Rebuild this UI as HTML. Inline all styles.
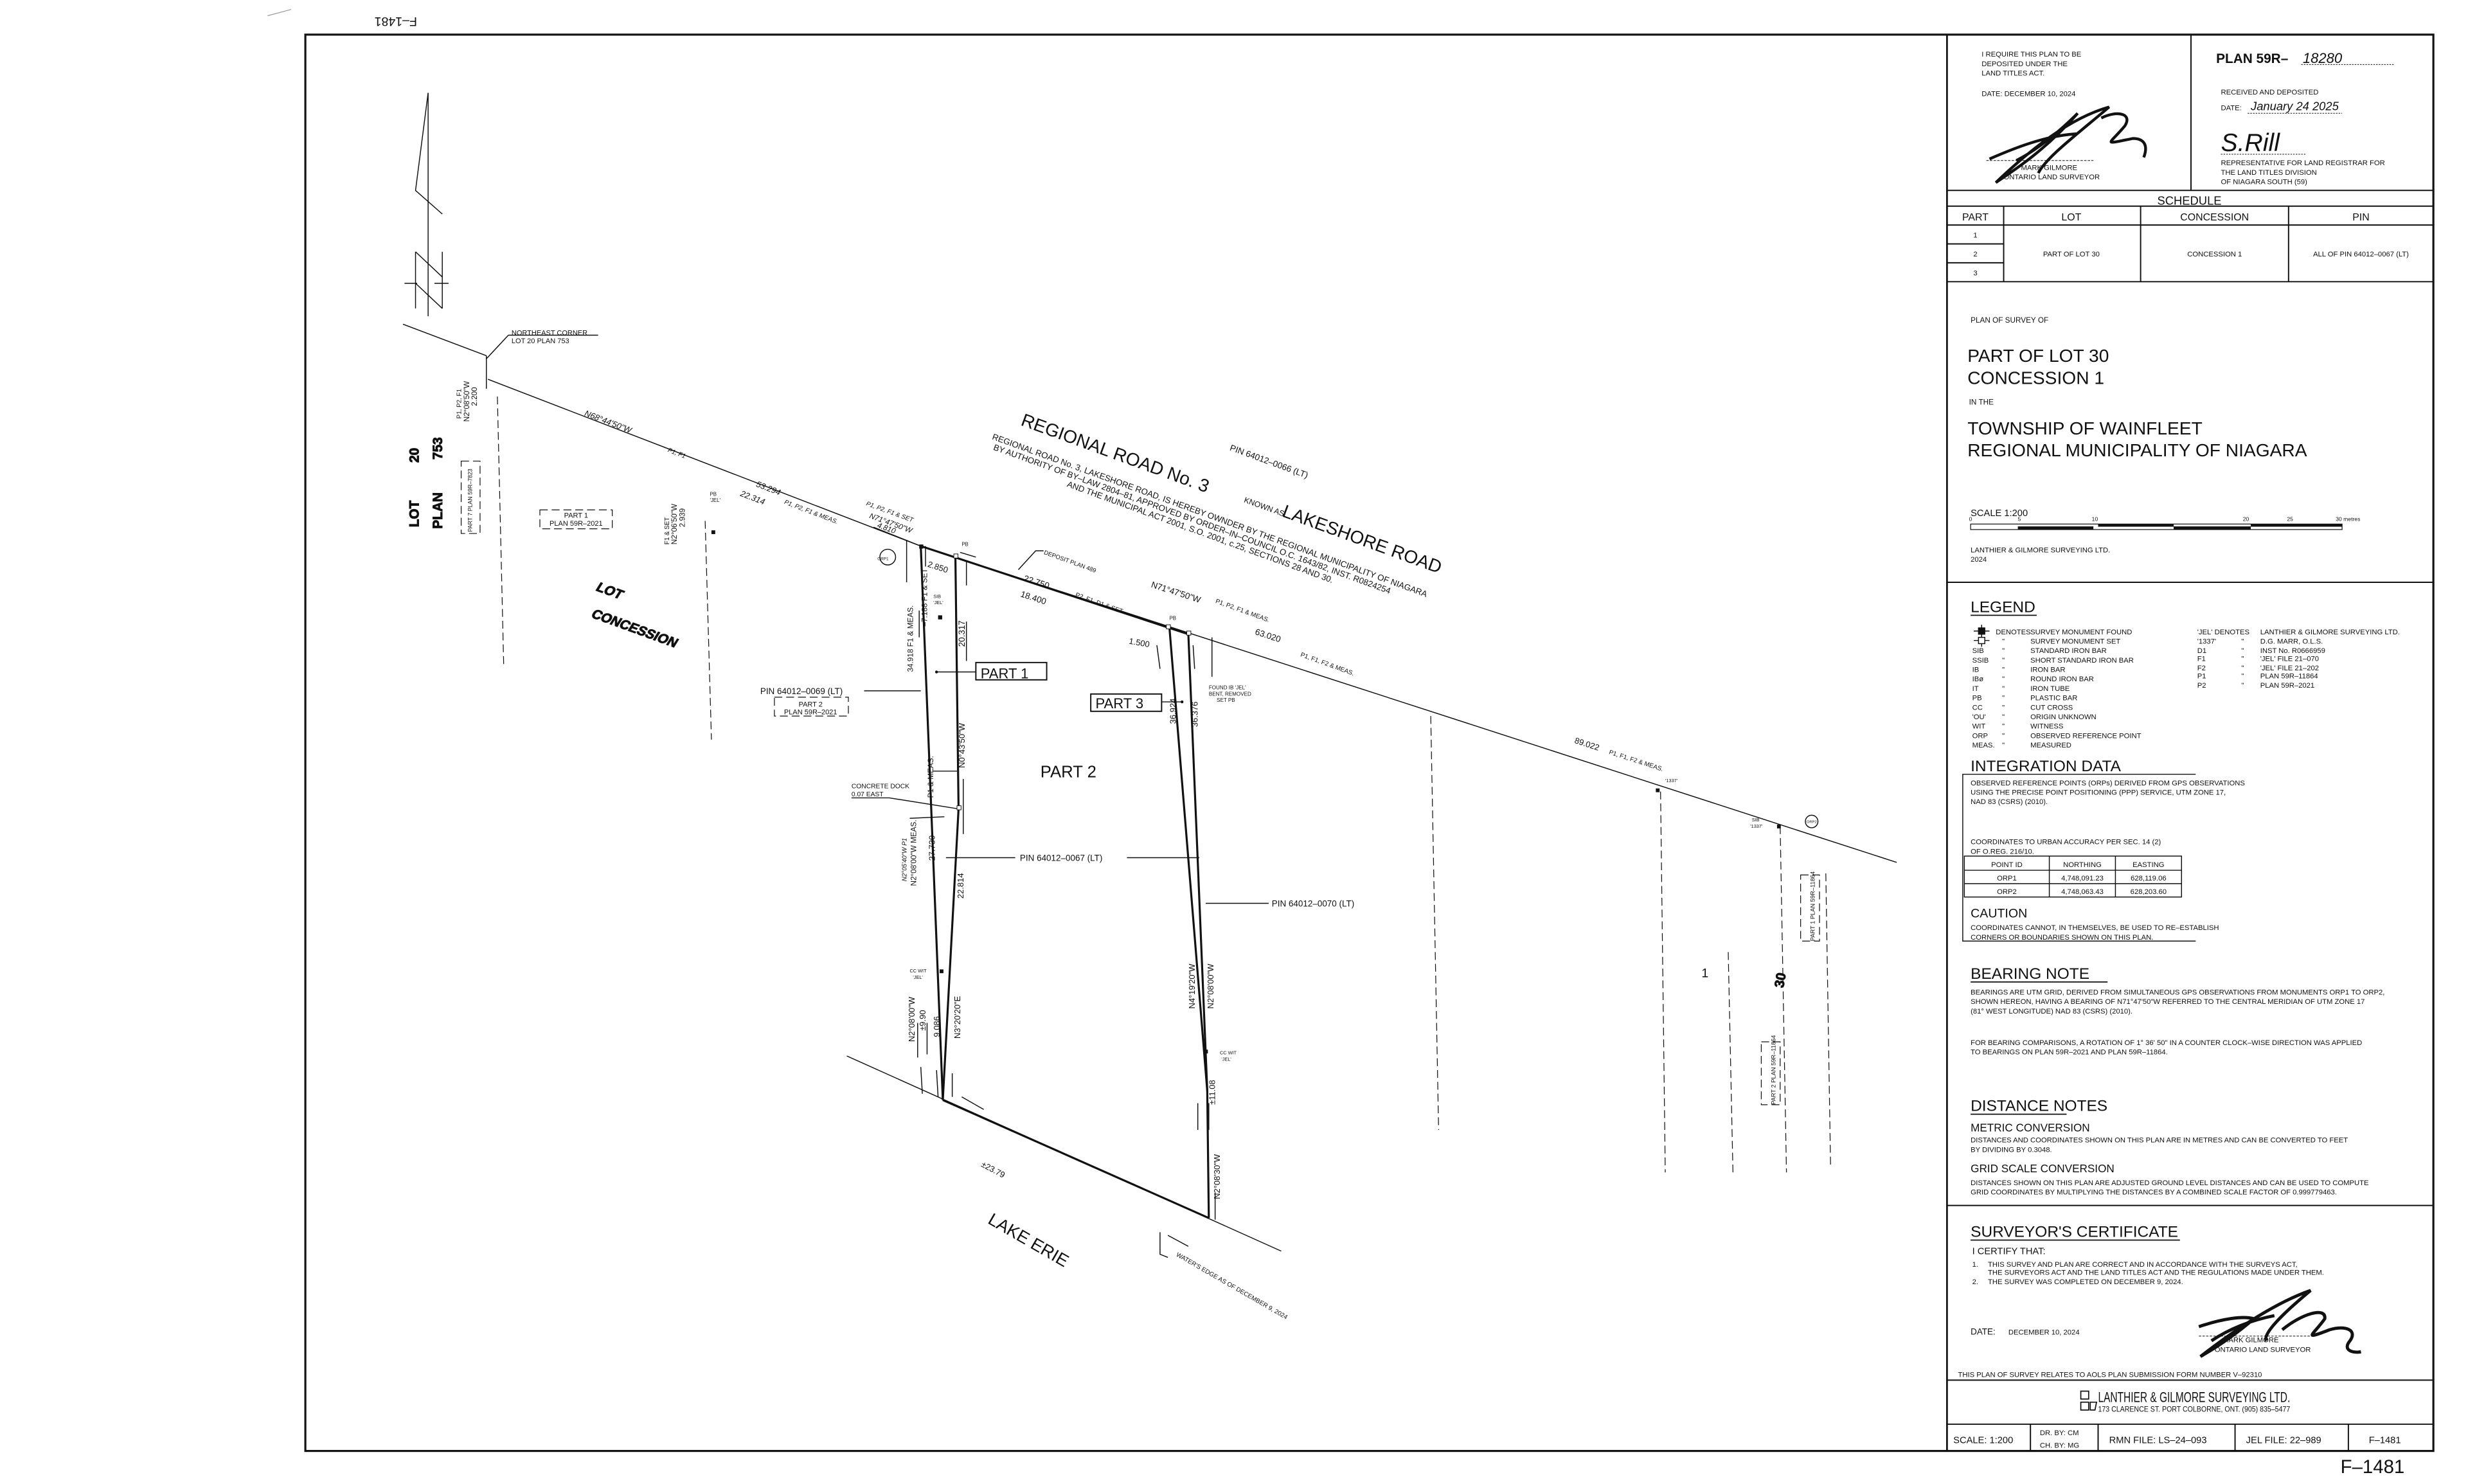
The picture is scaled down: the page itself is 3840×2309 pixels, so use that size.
<!DOCTYPE html>
<html><head><meta charset="utf-8"><style>
html,body{margin:0;padding:0;background:#fff;}
svg{display:block;}
text{font-family:"Liberation Sans",sans-serif;fill:#111;}
</style></head><body>
<svg width="3840" height="2309" viewBox="0 0 1568 943" preserveAspectRatio="none" xmlns="http://www.w3.org/2000/svg">
<rect width="1568" height="943" fill="#fff"/>
<text x="0" y="0" font-size="8" fill="#555" transform="translate(265,11) rotate(180)">F–1481</text>
<line x1="170" y1="10" x2="185" y2="6" stroke="#999" stroke-width="0.5"/>
<text x="1487" y="936" font-size="12" fill="#333">F–1481</text>

<rect x="194" y="22" width="1352" height="900" fill="none" stroke="#111" stroke-width="1.3"/>
<line x1="1237" y1="22" x2="1237" y2="922" stroke="#111" stroke-width="1.1"/>

<g stroke="#111" stroke-width="0.8" fill="none">
<line x1="1392" y1="22" x2="1392" y2="121"/>
<line x1="1237" y1="121" x2="1546" y2="121"/>
<line x1="1237" y1="131" x2="1546" y2="131"/>
<line x1="1237" y1="143" x2="1546" y2="143"/>
<line x1="1237" y1="155" x2="1273" y2="155"/>
<line x1="1237" y1="167" x2="1273" y2="167"/>
<line x1="1237" y1="179" x2="1546" y2="179"/>
<line x1="1273" y1="131" x2="1273" y2="179"/>
<line x1="1360" y1="131" x2="1360" y2="179"/>
<line x1="1454" y1="131" x2="1454" y2="179"/>
<line x1="1237" y1="370" x2="1546" y2="370"/>
<line x1="1237" y1="766" x2="1546" y2="766"/>
<line x1="1237" y1="877" x2="1546" y2="877"/>
<line x1="1237" y1="905" x2="1546" y2="905"/>
<line x1="1290" y1="905" x2="1290" y2="922"/>
<line x1="1333" y1="905" x2="1333" y2="922"/>
<line x1="1420" y1="905" x2="1420" y2="922"/>
<line x1="1492" y1="905" x2="1492" y2="922"/>
</g>
<g font-size="4.6">
<text x="1259" y="36">I REQUIRE THIS PLAN TO BE</text>
<text x="1259" y="42">DEPOSITED UNDER THE</text>
<text x="1259" y="48">LAND TITLES ACT.</text>
<text x="1259" y="61">DATE:  DECEMBER 10, 2024</text>
<text x="1284" y="108">MARK GILMORE</text>
<text x="1273" y="114">ONTARIO LAND SURVEYOR</text>
<text x="1411" y="60">RECEIVED AND DEPOSITED</text>
<text x="1411" y="70">DATE:</text>
<text x="1411" y="105">REPRESENTATIVE FOR LAND REGISTRAR FOR</text>
<text x="1411" y="111">THE LAND TITLES DIVISION</text>
<text x="1411" y="117">OF NIAGARA SOUTH (59)</text>
</g>
<line x1="1262" y1="102" x2="1330" y2="102" stroke="#111" stroke-width="0.4" stroke-dasharray="1.5,0.8"/>
<path d="M1281,102 C1295,95 1310,82 1320,72 C1300,95 1280,108 1268,116 C1290,95 1315,75 1340,68 C1320,85 1300,100 1295,110 M1264,101 C1280,94 1300,86 1320,85 M1335,75 C1345,70 1355,72 1350,80 C1340,92 1335,92 1355,88 C1362,88 1365,92 1362,100" fill="none" stroke="#111" stroke-width="1.8"/>
<text x="1408" y="40" font-size="8.5" font-weight="bold">PLAN 59R–</text>
<text x="1463" y="40" font-size="9" font-style="italic" font-family="Liberation Serif">18280</text>
<line x1="1462" y1="41" x2="1521" y2="41" stroke="#111" stroke-width="0.4" stroke-dasharray="1,0.7"/>
<text x="1430" y="70" font-size="7.5" font-style="italic" font-family="Liberation Serif">January 24 2025</text>
<line x1="1428" y1="72" x2="1488" y2="72" stroke="#111" stroke-width="0.4" stroke-dasharray="1,0.7"/>
<text x="1411" y="96" font-size="16" font-style="italic" font-family="Liberation Serif">S.Rill</text>
<line x1="1411" y1="98" x2="1465" y2="98" stroke="#111" stroke-width="0.4" stroke-dasharray="1,0.7"/>

<text x="1391" y="130" font-size="7.5" text-anchor="middle">SCHEDULE</text>
<g font-size="6.5" text-anchor="middle">
<text x="1255" y="140">PART</text><text x="1316" y="140">LOT</text><text x="1407" y="140">CONCESSION</text><text x="1500" y="140">PIN</text>
</g>
<g font-size="4.6" text-anchor="middle">
<text x="1255" y="151">1</text><text x="1255" y="163">2</text><text x="1255" y="175">3</text>
<text x="1316" y="163">PART OF LOT 30</text><text x="1407" y="163">CONCESSION 1</text><text x="1500" y="163">ALL OF PIN 64012–0067 (LT)</text>
</g>
<text x="1252" y="205" font-size="4.8">PLAN OF SURVEY OF</text>
<text x="1250" y="230" font-size="11.5">PART OF LOT 30</text>
<text x="1250" y="244" font-size="11.5">CONCESSION 1</text>
<text x="1251" y="257" font-size="4.8">IN THE</text>
<text x="1250" y="276" font-size="11.5">TOWNSHIP OF WAINFLEET</text>
<text x="1250" y="290" font-size="11.5">REGIONAL MUNICIPALITY OF NIAGARA</text>
<text x="1252" y="328" font-size="6">SCALE 1:200</text>
<g font-size="3.5"><text x="1251" y="331">0</text><text x="1282" y="331">5</text><text x="1329" y="331">10</text><text x="1425" y="331">20</text><text x="1453" y="331">25</text><text x="1484" y="331">30 metres</text></g>
<rect x="1252" y="333" width="236" height="3.5" fill="#fff" stroke="#111" stroke-width="0.5"/>
<rect x="1333" y="333" width="48" height="1.7" fill="#111"/><rect x="1430" y="333" width="58" height="1.7" fill="#111"/>
<rect x="1282" y="334.5" width="48" height="2" fill="#111"/><rect x="1381" y="334.5" width="49" height="2" fill="#111"/>
<text x="1252" y="351" font-size="4.6">LANTHIER &amp; GILMORE SURVEYING LTD.</text>
<text x="1252" y="357" font-size="4.6">2024</text>

<text x="1252" y="389" font-size="10">LEGEND</text>
<line x1="1252" y1="391" x2="1294" y2="391" stroke="#111" stroke-width="0.7"/>
<g font-size="4.6">
<text x="1268" y="403">DENOTES</text><text x="1290" y="403">SURVEY MONUMENT FOUND</text>
<text x="1290" y="409">SURVEY MONUMENT SET</text>
<text x="1253" y="415">SIB</text><text x="1290" y="415">STANDARD IRON BAR</text>
<text x="1253" y="421">SSIB</text><text x="1290" y="421">SHORT STANDARD IRON BAR</text>
<text x="1253" y="427">IB</text><text x="1290" y="427">IRON BAR</text>
<text x="1253" y="433">IBø</text><text x="1290" y="433">ROUND IRON BAR</text>
<text x="1253" y="439">IT</text><text x="1290" y="439">IRON TUBE</text>
<text x="1253" y="445">PB</text><text x="1290" y="445">PLASTIC BAR</text>
<text x="1253" y="451">CC</text><text x="1290" y="451">CUT CROSS</text>
<text x="1253" y="457">'OU'</text><text x="1290" y="457">ORIGIN UNKNOWN</text>
<text x="1253" y="463">WIT</text><text x="1290" y="463">WITNESS</text>
<text x="1253" y="469">ORP</text><text x="1290" y="469">OBSERVED REFERENCE POINT</text>
<text x="1253" y="475">MEAS.</text><text x="1290" y="475">MEASURED</text>
<text x="1272" y="409">"</text><text x="1272" y="415">"</text><text x="1272" y="421">"</text><text x="1272" y="427">"</text><text x="1272" y="433">"</text><text x="1272" y="439">"</text><text x="1272" y="445">"</text><text x="1272" y="451">"</text><text x="1272" y="457">"</text><text x="1272" y="463">"</text><text x="1272" y="469">"</text><text x="1272" y="475">"</text>
<text x="1396" y="403">'JEL' DENOTES</text>
<text x="1436" y="403">LANTHIER &amp; GILMORE SURVEYING LTD.</text>
<text x="1396" y="409">'1337'</text><text x="1436" y="409">D.G. MARR, O.L.S.</text>
<text x="1396" y="415">D1</text><text x="1436" y="415">INST No. R0666959</text>
<text x="1396" y="420">F1</text><text x="1436" y="420">'JEL' FILE 21–070</text>
<text x="1396" y="426">F2</text><text x="1436" y="426">'JEL' FILE 21–202</text>
<text x="1396" y="431">P1</text><text x="1436" y="431">PLAN 59R–11864</text>
<text x="1396" y="437">P2</text><text x="1436" y="437">PLAN 59R–2021</text>
<text x="1424" y="409">"</text><text x="1424" y="415">"</text><text x="1424" y="420">"</text><text x="1424" y="426">"</text><text x="1424" y="431">"</text><text x="1424" y="437">"</text>
</g>
<g stroke="#111" stroke-width="0.6" fill="none">
<line x1="1254" y1="401" x2="1264" y2="401"/><line x1="1259" y1="397" x2="1259" y2="405"/><rect x="1257" y="399" width="4" height="4" fill="#111"/>
<line x1="1254" y1="407" x2="1264" y2="407"/><line x1="1259" y1="403.5" x2="1259" y2="411"/><rect x="1257" y="405" width="4" height="4" fill="#fff"/>
</g>

<text x="1252" y="490" font-size="10">INTEGRATION DATA</text>
<g stroke="#111" stroke-width="0.6" fill="none">
<polyline points="1395,492 1247,492 1247,598 1395,598"/>
<rect x="1248" y="544" width="138" height="26"/>
<line x1="1248" y1="553" x2="1386" y2="553"/><line x1="1248" y1="561.5" x2="1386" y2="561.5"/>
<line x1="1302" y1="544" x2="1302" y2="570"/><line x1="1344" y1="544" x2="1344" y2="570"/>
</g>
<g font-size="4.6">
<text x="1252" y="499">OBSERVED REFERENCE POINTS (ORPs) DERIVED FROM GPS OBSERVATIONS</text>
<text x="1252" y="505">USING THE PRECISE POINT POSITIONING (PPP) SERVICE, UTM ZONE 17,</text>
<text x="1252" y="511">NAD 83 (CSRS) (2010).</text>
<text x="1252" y="536.5">COORDINATES TO URBAN ACCURACY PER SEC. 14 (2)</text>
<text x="1252" y="542.5">OF O.REG. 216/10.</text>
</g>
<g font-size="4.6" text-anchor="middle">
<text x="1275" y="551">POINT ID</text><text x="1323" y="551">NORTHING</text><text x="1365" y="551">EASTING</text>
<text x="1275" y="559.5">ORP1</text><text x="1323" y="559.5">4,748,091.23</text><text x="1365" y="559.5">628,119.06</text>
<text x="1275" y="568">ORP2</text><text x="1323" y="568">4,748,063.43</text><text x="1365" y="568">628,203.60</text>
</g>
<text x="1252" y="583" font-size="8">CAUTION</text>
<text x="1252" y="591" font-size="4.6">COORDINATES CANNOT, IN THEMSELVES, BE USED TO RE–ESTABLISH</text>
<text x="1252" y="597" font-size="4.6">CORNERS OR BOUNDARIES SHOWN ON THIS PLAN.</text>

<text x="1252" y="622" font-size="10">BEARING NOTE</text>
<line x1="1252" y1="624" x2="1339" y2="624" stroke="#111" stroke-width="0.7"/>
<g font-size="4.6">
<text x="1252" y="632">BEARINGS ARE UTM GRID, DERIVED FROM SIMULTANEOUS GPS OBSERVATIONS FROM MONUMENTS ORP1 TO ORP2,</text>
<text x="1252" y="638">SHOWN HEREON, HAVING A BEARING OF N71°47'50"W REFERRED TO THE CENTRAL MERIDIAN OF UTM ZONE 17</text>
<text x="1252" y="644">(81° WEST LONGITUDE) NAD 83 (CSRS) (2010).</text>
<text x="1252" y="664">FOR BEARING COMPARISONS, A ROTATION OF 1° 36' 50" IN A COUNTER CLOCK–WISE DIRECTION WAS APPLIED</text>
<text x="1252" y="670">TO BEARINGS ON PLAN 59R–2021 AND PLAN 59R–11864.</text>
</g>
<text x="1252" y="706" font-size="10">DISTANCE NOTES</text>
<line x1="1252" y1="708" x2="1313" y2="708" stroke="#111" stroke-width="0.7"/>
<text x="1252" y="719" font-size="7">METRIC CONVERSION</text>
<text x="1252" y="726" font-size="4.6">DISTANCES AND COORDINATES SHOWN ON THIS PLAN ARE IN METRES AND CAN BE CONVERTED TO FEET</text>
<text x="1252" y="732" font-size="4.6">BY DIVIDING BY 0.3048.</text>
<text x="1252" y="745" font-size="7">GRID SCALE CONVERSION</text>
<text x="1252" y="753" font-size="4.6">DISTANCES SHOWN ON THIS PLAN ARE ADJUSTED GROUND LEVEL DISTANCES AND CAN BE USED TO COMPUTE</text>
<text x="1252" y="759" font-size="4.6">GRID COORDINATES BY MULTIPLYING THE DISTANCES BY A COMBINED SCALE FACTOR OF 0.999779463.</text>

<text x="1252" y="786" font-size="10">SURVEYOR'S CERTIFICATE</text>
<line x1="1252" y1="788" x2="1385" y2="788" stroke="#111" stroke-width="0.7"/>
<text x="1253" y="797" font-size="6">I CERTIFY THAT:</text>
<g font-size="4.6">
<text x="1253" y="805">1.</text><text x="1263" y="805">THIS SURVEY AND PLAN ARE CORRECT AND IN ACCORDANCE WITH THE SURVEYS ACT,</text>
<text x="1263" y="810">THE SURVEYORS ACT AND THE LAND TITLES ACT AND THE REGULATIONS MADE UNDER THEM.</text>
<text x="1253" y="816">2.</text><text x="1263" y="816">THE SURVEY WAS COMPLETED ON DECEMBER 9, 2024.</text>
<text x="1252" y="848" font-size="5.5">DATE:</text><text x="1276" y="848">DECEMBER 10, 2024</text>
<text x="1412" y="853">MARK GILMORE</text>
<text x="1407" y="859">ONTARIO LAND SURVEYOR</text>
<text x="1244" y="875">THIS PLAN OF SURVEY RELATES TO AOLS PLAN SUBMISSION FORM NUMBER V–92310</text>
</g>
<line x1="1397" y1="849" x2="1470" y2="849" stroke="#111" stroke-width="0.4" stroke-dasharray="1.5,0.8"/>
<path d="M1397,843 C1412,838 1425,836 1432,838 C1418,850 1405,858 1398,862 C1420,845 1445,828 1468,820 C1450,835 1437,848 1440,852 M1405,852 C1420,842 1435,838 1445,836 M1450,845 C1462,835 1478,830 1477,838 C1470,848 1462,852 1480,845 C1490,842 1498,845 1493,852 C1488,858 1495,860 1500,859" fill="none" stroke="#111" stroke-width="2"/>
<g stroke="#111" stroke-width="0.7" fill="none">
<rect x="1322" y="884" width="5" height="5"/><rect x="1322" y="891" width="5" height="5"/><path d="M1328,891 h4 l-1,5 h-3 z"/>
</g>
<text x="1333" y="891" font-size="9" textLength="122" lengthAdjust="spacingAndGlyphs">LANTHIER &amp; GILMORE SURVEYING LTD.</text>
<text x="1333" y="897" font-size="5" textLength="122" lengthAdjust="spacingAndGlyphs">173 CLARENCE ST.  PORT COLBORNE, ONT. (905) 835–5477</text>
<g font-size="6">
<text x="1241" y="917">SCALE:  1:200</text>
<text x="1296" y="912" font-size="4.6">DR. BY: CM</text>
<text x="1296" y="920" font-size="4.6">CH. BY: MG</text>
<text x="1340" y="917">RMN FILE: LS–24–093</text>
<text x="1427" y="917">JEL FILE: 22–989</text>
<text x="1505" y="917">F–1481</text>
</g>

<!-- DRAWING -->
<g stroke="#111" fill="none" stroke-width="0.6">
<line x1="272" y1="59" x2="272" y2="201"/>
<polyline points="272,59 264,121 281,136"/>
<line x1="264" y1="160" x2="264" y2="196"/><line x1="281" y1="160" x2="281" y2="196"/>
<line x1="264" y1="160" x2="281" y2="176"/><line x1="264" y1="180" x2="281" y2="196"/>
<line x1="257" y1="180" x2="265" y2="180"/><line x1="276" y1="180" x2="285" y2="180"/>
<line x1="256" y1="206" x2="309" y2="226"/>
<line x1="309" y1="226" x2="309" y2="247"/>
<polyline points="310,241 585,347 1205,548"/>
<line x1="309" y1="228" x2="323" y2="213"/><line x1="323" y1="213" x2="380" y2="213"/>
<g stroke-dasharray="5,2.5" stroke-width="0.5">
<line x1="316" y1="252" x2="320" y2="422"/>
<line x1="448" y1="331" x2="452" y2="470"/>
<line x1="909" y1="455" x2="914" y2="718"/>
<line x1="1055" y1="503" x2="1058" y2="745"/>
<line x1="1098" y1="605" x2="1101" y2="745"/>
<line x1="1131" y1="525" x2="1135" y2="745"/>
<line x1="1160" y1="555" x2="1163" y2="740"/>
<rect x="343" y="324" width="46" height="12"/>
<rect x="492" y="443" width="47" height="12"/>
<rect x="293" y="293" width="12" height="46"/>
<rect x="1144" y="556" width="12" height="42"/>
<rect x="1119" y="662" width="12" height="40"/>
</g>
<g stroke-width="1.3">
<line x1="585" y1="347" x2="755" y2="403"/>
<line x1="585" y1="347" x2="599" y2="699"/>
<polyline points="607,354 609,514 599,699"/>
<polyline points="743,399 767,693 768,774"/>
<line x1="755" y1="403" x2="767" y2="693"/>
<line x1="599" y1="699" x2="768" y2="774"/>
</g>
<line x1="538" y1="671" x2="814" y2="795"/>
<line x1="595" y1="427" x2="620" y2="427"/>
<line x1="738" y1="446" x2="751" y2="446"/>
<line x1="549" y1="439" x2="585" y2="439"/>
<line x1="601" y1="545" x2="645" y2="545"/>
<line x1="716" y1="545" x2="762" y2="545"/>
<line x1="766" y1="574" x2="806" y2="574"/>
<polyline points="541,507 565,507 609,514"/>
<polyline points="647,362 658,350 663,350"/>
<polyline points="737,783 737,797 742,799"/>
<circle cx="564" cy="354" r="5"/>
<circle cx="1151" cy="522" r="4"/>
<rect x="620" y="421" width="45" height="11" stroke-width="0.8"/>
<rect x="693" y="441" width="45" height="11" stroke-width="0.8"/>
<line x1="576" y1="343" x2="576" y2="370"/><line x1="588" y1="347" x2="588" y2="360"/>
<line x1="614" y1="356" x2="614" y2="372"/><line x1="614" y1="395" x2="614" y2="420"/>
<line x1="584" y1="388" x2="584" y2="405"/>
<line x1="593" y1="490" x2="608" y2="490"/>
<line x1="612" y1="495" x2="612" y2="530"/>
<line x1="578" y1="520" x2="600" y2="519"/>
<line x1="583" y1="650" x2="583" y2="672"/><line x1="589" y1="650" x2="589" y2="670"/>
<line x1="585" y1="678" x2="586" y2="695"/><line x1="595" y1="680" x2="596" y2="697"/><line x1="605" y1="682" x2="605" y2="697"/>
<line x1="611" y1="697" x2="625" y2="705"/>
<line x1="761" y1="701" x2="761" y2="718"/><line x1="768" y1="701" x2="768" y2="718"/>
<line x1="742" y1="785" x2="755" y2="792"/>
<line x1="772" y1="758" x2="772" y2="775"/>
<line x1="735" y1="410" x2="737" y2="425"/><line x1="758" y1="410" x2="759" y2="425"/>
<line x1="770" y1="405" x2="770" y2="430"/>
<line x1="555" y1="335" x2="585" y2="347"/><line x1="610" y1="351" x2="620" y2="354"/>
</g>
<rect x="596" y="391" width="2.6" height="2.6" fill="#111"/>
<rect x="584" y="346" width="2.6" height="2.6" fill="#111"/>
<rect x="606" y="352" width="2.6" height="2.6" fill="#fff" stroke="#111" stroke-width="0.4"/>
<rect x="741" y="397" width="2.6" height="2.6" fill="#fff" stroke="#111" stroke-width="0.4"/>
<rect x="754" y="401" width="2.6" height="2.6" fill="#fff" stroke="#111" stroke-width="0.4"/>
<rect x="608" y="512" width="2.6" height="2.6" fill="#fff" stroke="#111" stroke-width="0.4"/>
<rect x="597" y="616" width="2.4" height="2.4" fill="#111"/>
<rect x="765" y="667" width="2.4" height="2.4" fill="#111"/>
<rect x="452" y="337" width="2.4" height="2.4" fill="#111"/>
<rect x="1052" y="501" width="2.4" height="2.4" fill="#111"/>
<rect x="1129" y="524" width="2.4" height="2.4" fill="#111"/>
<circle cx="595" cy="427" r="0.9" fill="#111"/><circle cx="751" cy="446" r="0.9" fill="#111"/>

<g font-size="4.5">
<text x="325" y="213">NORTHEAST CORNER</text>
<text x="325" y="218">LOT 20 PLAN 753</text>
<text x="366" y="329" text-anchor="middle">PART 1</text><text x="366" y="334" text-anchor="middle">PLAN 59R–2021</text>
<text x="515" y="449" text-anchor="middle">PART 2</text><text x="515" y="454" text-anchor="middle">PLAN 59R–2021</text>
<text x="541" y="501" font-size="4.2">CONCRETE DOCK</text><text x="541" y="506" font-size="4.2">0.07 EAST</text>
<text x="451" y="315" font-size="3.2">PB</text><text x="451" y="319" font-size="3.2">'JEL'</text>
<text x="611" y="347" font-size="3.2">PB</text>
<text x="743" y="394" font-size="3.2">PB</text>
<text x="593" y="380" font-size="3">SIB</text><text x="593" y="384" font-size="3">'JEL'</text>
<text x="768" y="438" font-size="3.3">FOUND IB 'JEL'</text><text x="768" y="442" font-size="3.3">BENT, REMOVED</text><text x="773" y="446" font-size="3.3">SET PB</text>
<text x="578" y="618" font-size="3">CC WIT</text><text x="580" y="622" font-size="3">'JEL'</text>
<text x="775" y="670" font-size="3">CC WIT</text><text x="776" y="674" font-size="3">'JEL'</text>
<text x="1113" y="522" font-size="3">SIB</text><text x="1112" y="526" font-size="3">'1337'</text>
<text x="1058" y="497" font-size="3">'1337'</text>
<text x="561" y="356" font-size="2.6" text-anchor="middle">ORP1</text>
<text x="1151" y="523" font-size="2.4" text-anchor="middle">ORP2</text>
<text x="483" y="441" font-size="5.5">PIN 64012–0069 (LT)</text>
<text x="648" y="547" font-size="5.5">PIN 64012–0067 (LT)</text>
<text x="808" y="576" font-size="5.5">PIN 64012–0070 (LT)</text>
</g>
<text x="623" y="431" font-size="9">PART 1</text>
<text x="696" y="450" font-size="9">PART 3</text>
<text x="661" y="494" font-size="10.5">PART 2</text>
<text x="1081" y="621" font-size="8" fill="#444">1</text>

<g font-size="8.5" font-weight="bold" fill="#fff" stroke="#111" stroke-width="0.4">
<text x="0" y="0" transform="translate(266,335) rotate(-90)">LOT</text>
<text x="0" y="0" transform="translate(266,294) rotate(-90)">20</text>
<text x="0" y="0" transform="translate(281,336) rotate(-90)">PLAN</text>
<text x="0" y="0" transform="translate(281,292) rotate(-90)">753</text>
<text x="0" y="0" transform="translate(378,375) rotate(20) skewX(-12)">LOT</text>
<text x="0" y="0" transform="translate(375,392) rotate(20) skewX(-12)">CONCESSION</text>
<text x="0" y="0" transform="translate(1133,628) rotate(-80)">30</text>
</g>

<g font-size="4.8">
<text transform="translate(580,427) rotate(-90)">34.918 F1 &amp; MEAS.</text>
<text transform="translate(589,398) rotate(-90)">–7.188 F1 &amp; SET</text>
<text transform="translate(613,411) rotate(-90)" font-size="5.5">20.317</text>
<text transform="translate(613,488) rotate(-90)" font-size="5.3">N0°43'50"W</text>
<text transform="translate(593,507) rotate(-90)">P1 &amp; MEAS.</text>
<text transform="translate(594,547) rotate(-90)" font-size="5.3">27.730</text>
<text transform="translate(576,560) rotate(-90)" font-size="4" font-style="italic">N2°05'40"W  P1</text>
<text transform="translate(582,563) rotate(-90)">N2°08'00"W  MEAS.</text>
<text transform="translate(612,571) rotate(-90)" font-size="5.3">22.814</text>
<text transform="translate(747,460) rotate(-90)" font-size="5.3">36.924</text>
<text transform="translate(761,462) rotate(-90)" font-size="5.3">36.376</text>
<text transform="translate(759,641) rotate(-90)" font-size="5.3">N4°19'20"W</text>
<text transform="translate(771,641) rotate(-90)" font-size="5.3">N2°08'00"W</text>
<text transform="translate(581,662) rotate(-90)" font-size="5.3">N2°08'00"W</text>
<text transform="translate(588,655) rotate(-90)" font-size="5.3">±9.90</text>
<text transform="translate(597,659) rotate(-90)" font-size="5.3">9.086</text>
<text transform="translate(610,660) rotate(-90)" font-size="5.3">N3°20'20"E</text>
<text transform="translate(772,702) rotate(-90)" font-size="5.3">±11.08</text>
<text transform="translate(775,762) rotate(-90)" font-size="5.3">N2°08'30"W</text>
<text transform="translate(293,266) rotate(-90)" font-size="4">P1, P2, F1</text>
<text transform="translate(298,268) rotate(-90)">N2°08'50"W</text>
<text transform="translate(303,258) rotate(-90)">2.200</text>
<text transform="translate(425,346) rotate(-90)" font-size="4">F1 &amp; SET</text>
<text transform="translate(430,346) rotate(-90)">N2°06'50"W</text>
<text transform="translate(435,335) rotate(-90)">2.939</text>
<text transform="translate(1153,598) rotate(-90)" font-size="3.8">PART 1  PLAN 59R–11864</text>
<text transform="translate(1128,702) rotate(-90)" font-size="3.8">PART 2  PLAN 59R–11864</text>
</g>
<text transform="translate(300,338) rotate(-90)" font-size="3.6">PART 7  PLAN 59R–7823</text>

<g font-size="5">
<text transform="translate(371,264) rotate(21)" font-size="5.3" font-style="italic">N68°44'50"W</text>
<text transform="translate(424,287) rotate(21)" font-size="4" font-style="italic">P1, F1</text>
<text transform="translate(480,309) rotate(21)" font-size="5.3" font-style="italic">53.294</text>
<text transform="translate(470,315) rotate(21)" font-size="5.3" font-style="italic">22.314</text>
<text transform="translate(498,320) rotate(21)" font-size="4" font-style="italic">P1, P2, F1 &amp; MEAS.</text>
<text transform="translate(550,321) rotate(20)" font-size="4" font-style="italic">P1, P2, F1 &amp; SET</text>
<text transform="translate(552,329) rotate(20)" font-size="4.8" font-style="italic">N71°47'50"W</text>
<text transform="translate(557,335) rotate(20)" font-size="4.8" font-style="italic">4.810</text>
<text transform="translate(589,360) rotate(18)" font-size="5.3">2.850</text>
<text transform="translate(663,352) rotate(20)" font-size="3.8">DEPOSIT PLAN 489</text>
<text transform="translate(650,369) rotate(18)" font-size="5.5">22.750</text>
<text transform="translate(648,379) rotate(18)" font-size="5.5">18.400</text>
<text transform="translate(683,379) rotate(20)" font-size="4">P2, F1, D1 &amp; SET</text>
<text transform="translate(731,373) rotate(18)" font-size="5.5">N71°47'50"W</text>
<text transform="translate(772,383) rotate(20)" font-size="4">P1, P2, F1 &amp; MEAS.</text>
<text transform="translate(797,403) rotate(18)" font-size="5.5">63.020</text>
<text transform="translate(826,417) rotate(20)" font-size="4">P1, F1, F2 &amp; MEAS.</text>
<text transform="translate(717,409) rotate(10)" font-size="5.3">1.500</text>
<text transform="translate(1000,472) rotate(18)" font-size="5.3">89.022</text>
<text transform="translate(1022,479) rotate(18)" font-size="4">P1, F1, F2 &amp; MEAS.</text>
<text transform="translate(648,270) rotate(20)" font-size="11.5">REGIONAL ROAD No. 3</text>
<g transform="translate(630,279) rotate(20)" font-size="5.4">
<text x="0" y="0">REGIONAL ROAD No. 3, LAKESHORE ROAD, IS HEREBY OWNDER BY THE REGIONAL MUNICIPALITY OF NIAGARA</text>
<text x="3" y="6">BY AUTHORITY OF BY–LAW 2804–81, APPROVED BY ORDER–IN–COUNCIL O.C. 1643/82, INST. R0824254</text>
<text x="55" y="12">AND THE MUNICIPAL ACT 2001, S.O. 2001, c.25, SECTIONS 28 AND 30.</text>
</g>
<text transform="translate(781,286) rotate(20)" font-size="5.5">PIN 64012–0066 (LT)</text>
<text transform="translate(790,319) rotate(20)" font-size="5">KNOWN AS</text>
<text transform="translate(814,328) rotate(20)" font-size="11.5">LAKESHORE ROAD</text>
<text transform="translate(623,741) rotate(28)" font-size="5.3">±23.79</text>
<text transform="translate(627,777) rotate(30)" font-size="11" fill="#222">LAKE ERIE</text>
<text transform="translate(747,798) rotate(30)" font-size="4">WATER'S EDGE AS OF  DECEMBER 9, 2024</text>
</g>
</svg>
</body></html>
